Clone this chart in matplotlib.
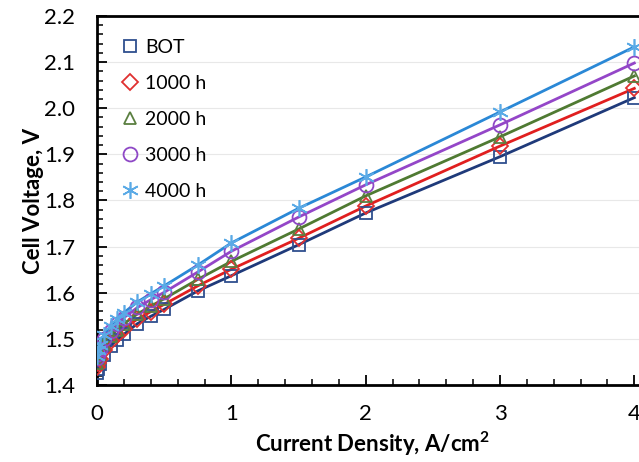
import matplotlib
matplotlib.use("Agg")
import matplotlib.pyplot as plt
from matplotlib.ticker import MultipleLocator

plt.rcParams['font.family'] = ['Lato', 'DejaVu Sans']

current = [0, 0.01, 0.02, 0.05, 0.1, 0.15, 0.2, 0.3, 0.4, 0.5, 0.75, 1.0, 1.5, 2.0, 3.0, 4.0]
bot   = [1.425, 1.435, 1.445, 1.465, 1.485, 1.498, 1.510, 1.533, 1.549, 1.564, 1.604, 1.637, 1.704, 1.773, 1.895, 2.023]
h1000 = [1.438, 1.448, 1.457, 1.476, 1.495, 1.509, 1.522, 1.543, 1.559, 1.575, 1.615, 1.651, 1.718, 1.788, 1.918, 2.043]
h2000 = [1.448, 1.458, 1.467, 1.488, 1.506, 1.520, 1.533, 1.554, 1.571, 1.587, 1.629, 1.668, 1.738, 1.810, 1.938, 2.070]
h3000 = [1.458, 1.468, 1.478, 1.499, 1.518, 1.533, 1.546, 1.568, 1.585, 1.601, 1.645, 1.690, 1.764, 1.834, 1.964, 2.098]
h4000 = [1.463, 1.476, 1.487, 1.508, 1.528, 1.543, 1.557, 1.580, 1.598, 1.615, 1.660, 1.708, 1.783, 1.851, 1.992, 2.133]

labels = ['BOT', '1000 h', '2000 h', '3000 h', '4000 h']
series = [bot, h1000, h2000, h3000, h4000]
line_colors = ['#1f3a7a', '#e01f1f', '#4f7a32', '#9446c8', '#2a88d6']
marker_colors = ['#2f4f8f', '#e03030', '#5a7f40', '#8e48c6', '#5aaae6']
markers = ['s', 'D', '^', 'o', '*']
msizes = [9, 8, 9, 10, 12]

fig = plt.figure(figsize=(6.39, 4.62), dpi=100)
ax = fig.add_axes([0.152, 0.1667, 0.8617, 0.7987])

for y, lab, lc, mc, mk, ms in zip(series, labels, line_colors, marker_colors, markers, msizes):
    ax.plot(current, y, '-', color=lc, lw=2, zorder=2)
    if mk == '*':
        ax.plot(current, y, linestyle='none', marker=(6, 2, 0), markersize=ms,
                markeredgecolor=mc, markerfacecolor='none', markeredgewidth=1.2,
                label=lab, zorder=3)
    else:
        ax.plot(current, y, linestyle='none', marker=mk, markersize=ms,
                markeredgecolor=mc, markerfacecolor='none', markeredgewidth=1.3,
                label=lab, zorder=3)

ax.set_xlim(0, 4.1)
ax.set_ylim(1.4, 2.2)
ax.xaxis.set_major_locator(MultipleLocator(1))
ax.xaxis.set_minor_locator(MultipleLocator(0.2))
ax.yaxis.set_major_locator(MultipleLocator(0.1))
ax.yaxis.set_minor_locator(MultipleLocator(0.02))
ax.yaxis.set_major_formatter(matplotlib.ticker.FormatStrFormatter('%.1f'))
ax.tick_params(axis='both', which='both', direction='in', top=False, right=False)
ax.tick_params(axis='both', which='major', length=7, width=1.3, labelsize=16)
ax.tick_params(axis='x', which='major', pad=14)
ax.tick_params(axis='y', which='major', pad=16)
ax.tick_params(axis='both', which='minor', length=4, width=1.1)
ax.grid(axis='y', which='major', color='#e8e8e8', lw=0.8, zorder=0)
ax.set_axisbelow(True)
for s in ['left', 'bottom', 'top']:
    ax.spines[s].set_linewidth(2)
ax.spines['right'].set_visible(False)

ax.set_xlabel('Current Density, A/cm$^\\mathregular{2}$', fontsize=16, fontweight='bold', labelpad=4)
ax.set_ylabel('Cell Voltage, V', fontsize=16, fontweight='bold', labelpad=0)

leg = ax.legend(loc='upper left', frameon=False, fontsize=14, handletextpad=0.3,
                handlelength=1.0, labelspacing=0.98, bbox_to_anchor=(0.01, 0.985))

fig.savefig('out.png', dpi=100)
